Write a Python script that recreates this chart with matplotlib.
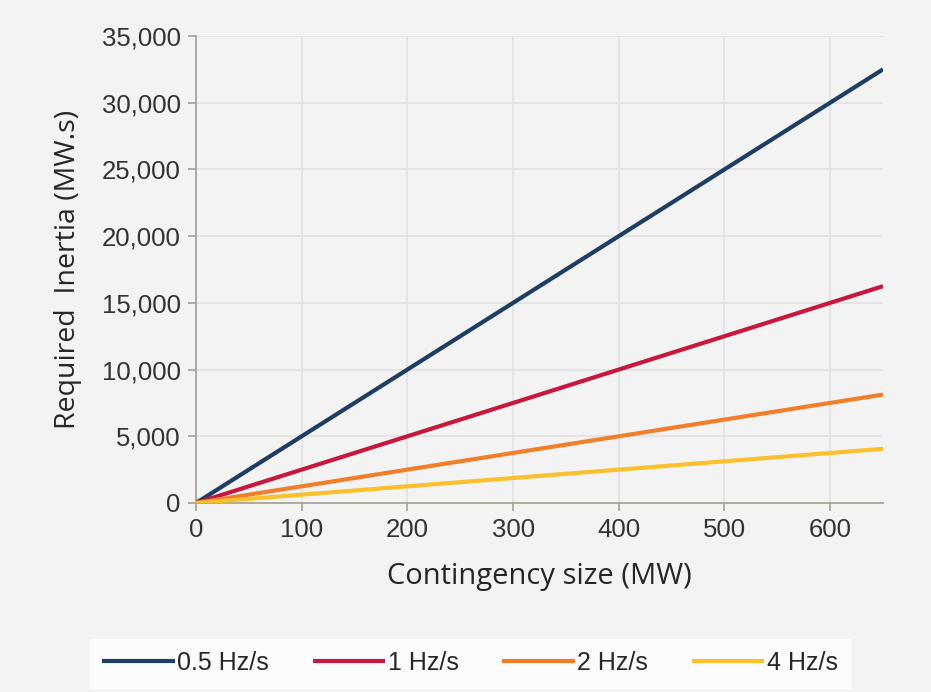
import matplotlib.pyplot as plt
from matplotlib.ticker import FuncFormatter

# contingency size (MW) and required inertia (MW.s) for each RoCoF limit
contingency = [0, 650]
inertia_05 = [0, 32500]
inertia_1 = [0, 16250]
inertia_2 = [0, 8125]
inertia_4 = [0, 4062]
labels = ['0.5 Hz/s', '1 Hz/s', '2 Hz/s', '4 Hz/s']
colors = ['#1f3d63', '#c8173c', '#f07f2c', '#fbc02d']

BG = '#f4f3f4'


def main():
    fig = plt.figure(figsize=(9.31, 6.92), dpi=100, facecolor=BG)
    ax = fig.add_axes([196 / 931, 1 - 503 / 692, (883 - 196) / 931, (503 - 36) / 692])
    ax.set_facecolor(BG)

    series = [inertia_05, inertia_1, inertia_2, inertia_4]
    handles = []
    for ys, lab, col in zip(series, labels, colors):
        h, = ax.plot(contingency, ys, color=col, lw=3, label=lab,
                     solid_capstyle='butt', zorder=3)
        handles.append(h)

    ax.set_xlim(0, 650)
    ax.set_ylim(0, 35000)
    ax.set_xticks(range(0, 601, 100))
    ax.set_yticks(range(0, 35001, 5000))
    ax.yaxis.set_major_formatter(FuncFormatter(lambda v, _: f'{int(v):,}'))
    ax.grid(True, color='#e3e1e1', lw=1.2)
    ax.set_axisbelow(True)

    for s in ['top', 'right']:
        ax.spines[s].set_visible(False)
    for s in ['left', 'bottom']:
        ax.spines[s].set_color('#a59f8f')
        ax.spines[s].set_linewidth(1.2)
    ax.tick_params(colors='#a59f8f', length=6, width=1.2, direction='out',
                   labelcolor='#333333', labelsize=18.5, pad=5)
    for t in ax.get_xticklabels() + ax.get_yticklabels():
        t.set_family(['Liberation Sans', 'DejaVu Sans'])

    ax.set_xlabel('Contingency size (MW)', fontsize=21, family='Open Sans',
                  color='#262626', labelpad=14)
    ax.set_ylabel('Required  Inertia (MW.s)', fontsize=20.5, family='Open Sans',
                  color='#262626', labelpad=14)

    leg = fig.legend(handles=handles, labels=labels, loc='center',
                     bbox_to_anchor=(470 / 931, 1 - 663 / 692), ncol=4,
                     frameon=True, fancybox=False, handlelength=2.9,
                     handletextpad=0.1, columnspacing=1.75,
                     prop={'family': ['Liberation Sans Narrow', 'Liberation Sans'],
                           'size': 18},
                     borderpad=0.5, borderaxespad=0)
    leg.get_frame().set_facecolor('white')
    leg.get_frame().set_edgecolor('white')
    for t in leg.get_texts():
        t.set_color('#262626')

    plt.savefig('out.png', dpi=100, facecolor=BG)
    plt.close()


if __name__ == '__main__':
    main()
